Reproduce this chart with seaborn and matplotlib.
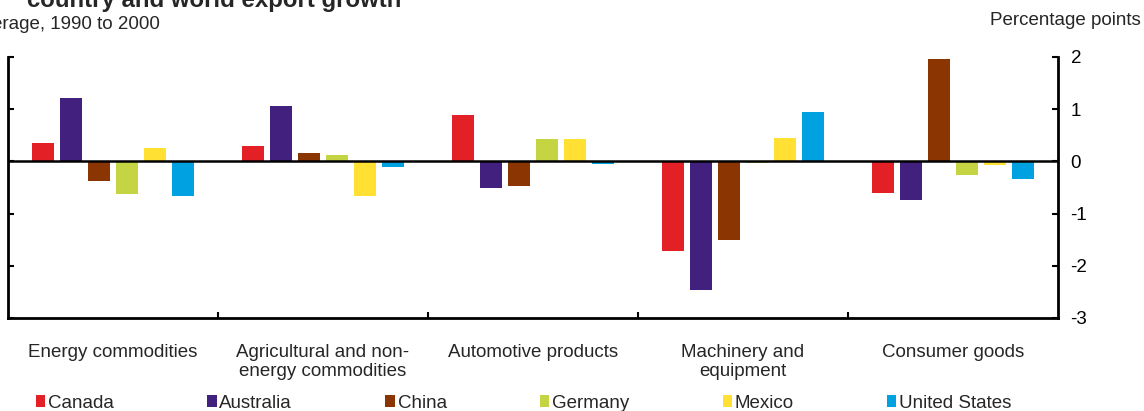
import matplotlib
matplotlib.use("Agg")
import matplotlib.pyplot as plt
import pandas as pd
import seaborn as sns

# ── Dados (pontos percentuais) ───────────────────────────────────────────────
CATEGORIES = [
    "Energy commodities",
    "Agricultural and non-\nenergy commodities",
    "Automotive products",
    "Machinery and\nequipment",
    "Consumer goods",
]
COUNTRIES = ["Canada", "Australia", "China", "Germany", "Mexico", "United States"]
COLORS    = ["#E32026", "#41207E", "#8B3502", "#C4D443", "#FFE033", "#00A1E0"]

canada        = [0.35, 0.30, 0.89, -1.71, -0.61]
australia     = [1.21, 1.07, -0.51, -2.46, -0.74]
china         = [-0.38, 0.17, -0.48, -1.50, 1.97]
germany       = [-0.63, 0.13, 0.43, -0.04, -0.27]
mexico        = [0.26, -0.66, 0.43, 0.45, -0.06]
united_states = [-0.67, -0.10, -0.05, 0.95, -0.33]

Y_TICKS = [-3, -2, -1, 0, 1, 2]

series = [canada, australia, china, germany, mexico, united_states]
df = pd.DataFrame(
    [(cat, country, val)
     for country, vals in zip(COUNTRIES, series)
     for cat, val in zip(CATEGORIES, vals)],
    columns=["category", "country", "value"],
)

# ── Figura ───────────────────────────────────────────────────────────────────
sns.set_theme(style="white")
plt.rcParams["font.family"] = ["Liberation Sans", "DejaVu Sans"]
FS = 13.5

W, H = 1144, 411
fig = plt.figure(figsize=(W / 100, H / 100), dpi=100)
ax = fig.add_axes([8 / W, (H - 318) / H, 1050 / W, (318 - 57) / H])

sns.barplot(data=df, x="category", y="value", hue="country",
            order=CATEGORIES, hue_order=COUNTRIES, palette=COLORS,
            width=0.8, gap=0.18, saturation=1, linewidth=0, ax=ax)

ax.axhline(0, color="black", lw=1.8, zorder=5)
ax.set_ylim(-3, 2)
ax.set_xlim(-0.5, len(CATEGORIES) - 0.5)
ax.set_yticks(Y_TICKS)
ax.set_yticklabels([str(t) for t in Y_TICKS])
ax.set_xlabel("")
ax.set_ylabel("")

for side in ("left", "bottom", "right"):
    ax.spines[side].set_visible(True)
    ax.spines[side].set_color("black")
    ax.spines[side].set_linewidth(2)
ax.spines["top"].set_visible(False)

ax.tick_params(axis="y", left=True, right=True, labelleft=False, labelright=True,
               direction="in", length=4.5, width=1.5, pad=9, labelsize=FS,
               colors="black")
# rótulos das categorias no centro, marcas nas fronteiras
ax.tick_params(axis="x", which="major", length=0, pad=19, labelsize=FS)
ax.set_xticks([i + 0.5 for i in range(len(CATEGORIES) - 1)], minor=True)
ax.tick_params(axis="x", which="minor", bottom=True, direction="in",
               length=4.5, width=1.5, color="black")
for lbl in ax.get_xticklabels():
    lbl.set_linespacing(1.15)
    lbl.set_ha("center")

sns.move_legend(ax, "center left", bbox_to_anchor=(36 / W, 1 - 403 / H),
                bbox_transform=fig.transFigure, ncol=6, frameon=False,
                title=None, fontsize=FS, handlelength=0.5, handleheight=0.65,
                handletextpad=0.15, columnspacing=4.97, borderpad=0,
                borderaxespad=0)

# ── Textos do cabeçalho (recortados na imagem original) ─────────────────────
fig.text(214.5 / W, 1 - 7 / H, "country and world export growth",
         ha="center", va="baseline", fontsize=17.3, fontweight="bold")
fig.text(160 / W, 1 - 29 / H, "erage, 1990 to 2000",
         ha="right", va="baseline", fontsize=FS)
fig.text(1141 / W, 1 - 25 / H, "Percentage points",
         ha="right", va="baseline", fontsize=FS)

fig.savefig("out.png", dpi=100)
